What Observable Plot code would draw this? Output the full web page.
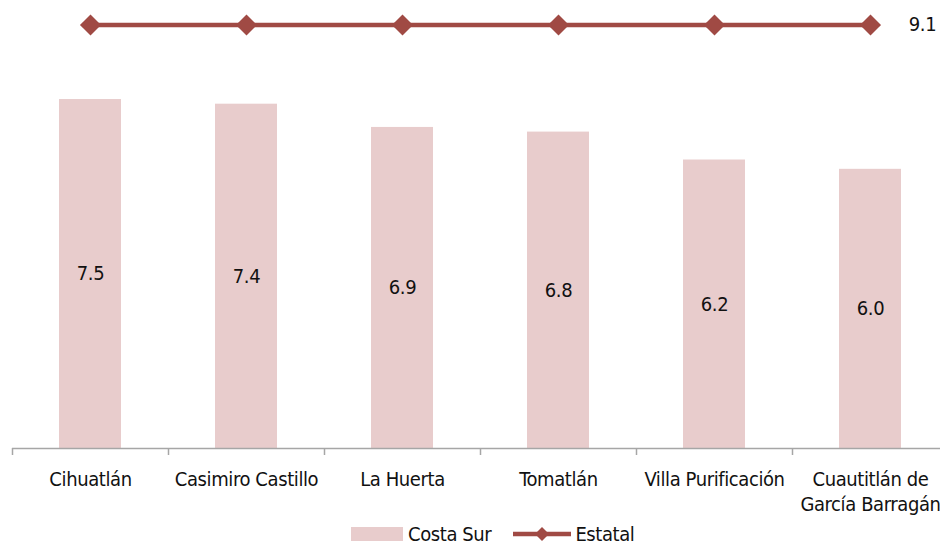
<!DOCTYPE html>
<html><head><meta charset="utf-8">
<script src="https://cdn.jsdelivr.net/npm/d3@7"></script>
<script src="https://cdn.jsdelivr.net/npm/@observablehq/plot@0.6"></script>
<style>
body{margin:0;background:#fff;}
#wrap{width:940px;font-family:"Liberation Sans Narrow","DejaVu Sans Condensed",sans-serif;color:#111;}
#legend{height:20px;padding-top:9px;display:flex;align-items:center;padding-left:351px;font-size:20px;line-height:20px;letter-spacing:-0.4px;}
.sw{display:inline-block;}
#chart text{letter-spacing:-0.4px;}
</style></head><body><div id="wrap"><div id="chart"></div><div id="legend"></div></div>
<script>
const categories = ["Cihuatlán","Casimiro Castillo","La Huerta","Tomatlán","Villa Purificación","Cuautitlán de\nGarcía Barragán"];
const costaSur = [7.5, 7.4, 6.9, 6.8, 6.2, 6.0];
const estatal = [9.1, 9.1, 9.1, 9.1, 9.1, 9.1];
const seriesNames = ["Costa Sur", "Estatal"];

const barColor = "#e8cccc";
const lineColor = "#a04a44";
const font = '"Liberation Sans Narrow","DejaVu Sans Condensed",sans-serif';

const rows = categories.map((c, i) => ({cat: c, costa: costaSur[i], estatal: estatal[i]}));
const last = rows[rows.length - 1];

const chart = Plot.plot({
  width: 940,
  height: 515,
  marginLeft: 12, marginRight: 0, marginTop: 0, marginBottom: 67,
  style: {fontFamily: font, fontSize: "20px", color: "#111", background: "#fff"},
  x: {domain: categories, range: [12, 948], paddingInner: 0.6, paddingOuter: 0.3, label: null},
  y: {domain: [0, 10], range: [448, -17.3], axis: null},
  marks: [
    Plot.barY(rows, {x: "cat", y: "costa", fill: barColor}),
    Plot.text(rows, {x: "cat", y: d => d.costa / 2, text: d => d.costa.toFixed(1), fontSize: 20, fill: "#111"}),
    Plot.ruleY([0], {stroke: "#a6a6a6", strokeWidth: 1.5}),
    Plot.axisX({tickSize: 7, tickFormat: () => "", dx: -78, stroke: "#a6a6a6", strokeWidth: 1.5}),
    Plot.axisX({tickSize: 0, tickPadding: 20, fontSize: 20, lineHeight: 1.25, fill: "#111", label: null}),
    Plot.line(rows, {x: "cat", y: "estatal", stroke: lineColor, strokeWidth: 4.5}),
    Plot.dot(rows, {x: "cat", y: "estatal", symbol: "diamond2", r: 9.5, fill: lineColor}),
    Plot.text([last], {x: "cat", y: "estatal", text: d => d.estatal.toFixed(1), dx: 52, fontSize: 20, fill: "#111"})
  ]
});
document.getElementById("chart").append(chart);

const lg = document.getElementById("legend");
lg.innerHTML =
  `<span class="sw" style="width:52px;height:14px;background:${barColor};margin-right:5px"></span><span>${seriesNames[0]}</span>` +
  `<svg width="60" height="20" style="margin-left:22px;margin-right:2px"><line x1="0" y1="10" x2="58" y2="10" stroke="${lineColor}" stroke-width="4.5"/><path d="M29,3 L36,10 L29,17 L22,10Z" fill="${lineColor}"/></svg><span>${seriesNames[1]}</span>`;
</script></body></html>
